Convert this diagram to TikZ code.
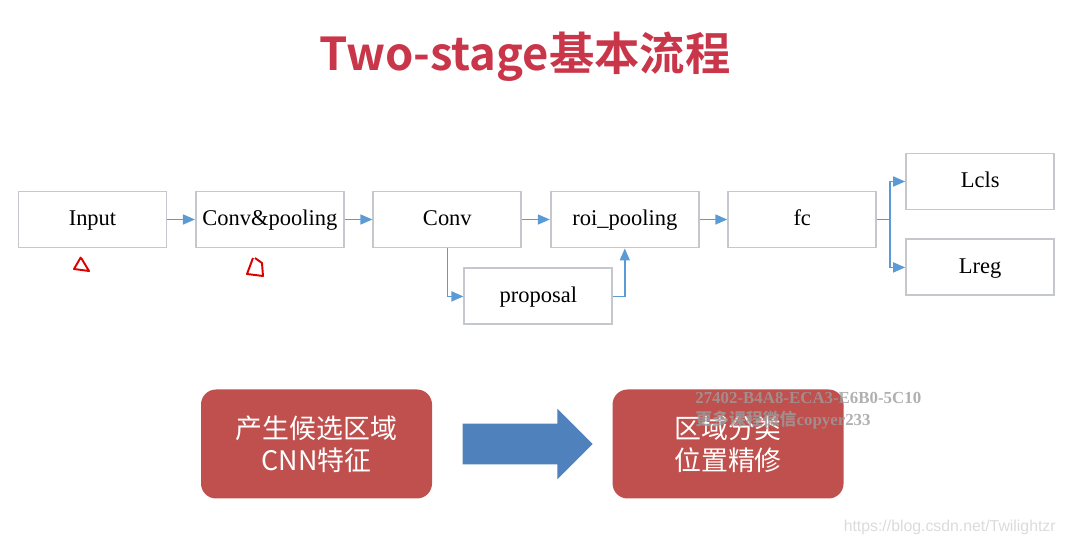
\documentclass[tikz,border=0pt]{standalone}
\usepackage{fontspec}
\setmainfont{Liberation Serif}
\setsansfont{Liberation Sans}
\newfontfamily\cjk{Noto Sans CJK SC}
\newfontfamily\cjkbf{Noto Sans CJK SC Bold}
\usetikzlibrary{positioning, arrows.meta, shapes.arrows}
\definecolor{boxGray}{HTML}{C4C8CC}
\definecolor{flowBlue}{HTML}{5B9BD5}
\definecolor{stageRed}{HTML}{C0504D}
\definecolor{titleRed}{HTML}{C9364A}
\definecolor{arrowBlue}{HTML}{4F81BD}
\definecolor{markGray}{HTML}{9C9C9C}

\begin{document}
\begin{tikzpicture}[node distance=0.55cm,
  every node/.style={font=\fontsize{12.8}{15}\selectfont},
  box/.style={draw=boxGray, line width=1.1pt, fill=white, minimum width=2.96cm, minimum height=1.12cm, inner sep=0pt, text height=2.1ex, text depth=0.6ex},
  flow/.style={-{Triangle[length=2.4mm,width=2mm]}, color=flowBlue, line width=0.9pt},
  stagebox/.style={rounded corners=0.3cm, fill=stageRed, text=white, minimum width=4.62cm, minimum height=2.18cm, align=center, font=\cjk\fontsize{15.3}{18}\selectfont}]
  \useasboundingbox (0,0) rectangle (21.32,-10.92);

  \node[font=\cjkbf\fontsize{25.8}{30}\selectfont, text=titleRed] (title) at (10.5,-1.14) {Two-stage基本流程};

  % pipeline
  \node[box] (input) at (1.85,-4.39) {Input};
  \node[box, right=of input] (convpool) {Conv\&pooling};
  \node[box, right=of convpool] (conv) {Conv};
  \node[box, right=of conv] (roi) {roi\_pooling};
  \node[box, right=of roi] (fc) {fc};
  \node[box, below=0.38cm of conv, xshift=1.82cm] (proposal) {proposal};
  \node[box, right=0.56cm of fc, yshift=0.76cm] (lcls) {Lcls};
  \node[box, below=0.56cm of lcls] (lreg) {Lreg};
  \coordinate[right=0.26cm of fc] (split);

  \draw[flow] (input) -- (convpool);
  \draw[flow] (convpool) -- (conv);
  \draw[flow] (conv) -- (roi);
  \draw[flow] (conv.south) |- (proposal.west);
  \draw[flow] (proposal.east) -| (roi.south);
  \draw[flow] (roi) -- (fc);
  \draw[flow] (fc.east) -- (split) |- (lcls.west);
  \draw[flow] (split) |- (lreg.west);

  % hand marks
  \draw[red!85!black, line width=1.1pt, line join=round] (1.62,-5.14) -- (1.48,-5.38) -- (1.78,-5.42) -- (1.63,-5.17);
  \draw[red!85!black, line width=1.1pt, line join=round] (5.06,-5.16) -- (4.94,-5.48) -- (5.26,-5.52) -- (5.24,-5.26) -- (5.1,-5.16);

  % two stages
  \node[stagebox] (cand) at (6.33,-8.88) {产生候选区域\\CNN特征};
  \node[single arrow, fill=arrowBlue, inner sep=0.4cm, single arrow head extend=0.3cm, minimum height=2.6cm, right=0.6cm of cand] (go) {};
  \node[stagebox, right=0.38cm of go] (refine) {区域分类\\位置精修};

  % watermarks
  \node[anchor=west, inner sep=0pt, text=markGray, text opacity=0.8, font=\bfseries\fontsize{9.6}{11}\selectfont] (wm1) at (13.9,-7.96) {27402-B4A8-ECA3-E6B0-5C10};
  \node[anchor=west, inner sep=0pt, text=markGray, text opacity=0.8, font=\bfseries\fontsize{9.6}{11}\selectfont] (wm2) at (13.9,-8.4) {{\cjk 更多课程微信}copyer233};
  \node[anchor=east, inner sep=0pt, text=black!14, font=\sffamily\fontsize{9}{11}\selectfont] (url) at (21.12,-10.54) {https://blog.csdn.net/Twilightzr};
\end{tikzpicture}
\end{document}
